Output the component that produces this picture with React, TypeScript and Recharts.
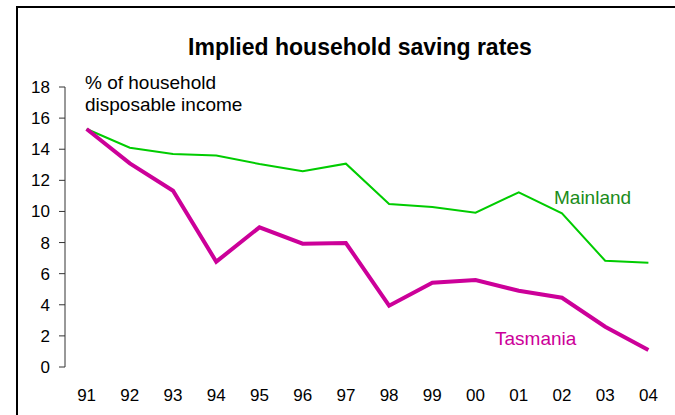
import React from 'react';
import { LineChart, Line, XAxis, YAxis } from 'recharts';

const years = ['91', '92', '93', '94', '95', '96', '97', '98', '99', '00', '01', '02', '03', '04'];
const mainland = [15.3, 14.1, 13.7, 13.6, 13.05, 12.58, 13.07, 10.48, 10.28, 9.92, 11.23, 9.88, 6.83, 6.7];
const tasmania = [15.3, 13.09, 11.33, 6.77, 8.98, 7.93, 7.97, 3.94, 5.42, 5.59, 4.9, 4.45, 2.59, 1.09];
const yTicks = [0, 2, 4, 6, 8, 10, 12, 14, 16, 18];

const data = years.map((y, i) => ({ i, year: y, mainland: mainland[i], tasmania: tasmania[i] }));
const labelTicks = years.map((_, i) => i);
const boundaryTicks = [...years.map((_, i) => i - 0.5), years.length - 0.5];

const FONT = '"Liberation Sans", Arial, sans-serif';

export default function App() {
  return (
    <div style={{ position: 'absolute', left: 0, top: 0, width: 675, height: 415, overflow: 'hidden', background: '#fff' }}>
      <div style={{ position: 'absolute', left: 16, top: 6, width: 800, height: 600, border: '2px solid #000' }} />
      <div style={{ position: 'absolute', left: 0, top: 0 }}>
        <LineChart width={675} height={415} data={data} margin={{ top: 87, right: 5, bottom: 18, left: 20 }}>
          <XAxis
            xAxisId="b"
            dataKey="i"
            type="number"
            domain={[-0.5, years.length - 0.5]}
            ticks={boundaryTicks}
            interval={0}
            height={0}
            tick={false}
            tickSize={6}
            stroke="#333"
            axisLine={{ stroke: '#333', strokeWidth: 1 }}
            tickLine={{ stroke: '#333', strokeWidth: 1 }}
          />
          <XAxis
            xAxisId="a"
            dataKey="i"
            type="number"
            domain={[-0.5, years.length - 0.5]}
            ticks={labelTicks}
            interval={0}
            height={30}
            axisLine={false}
            tickLine={false}
            tickSize={0}
            tickMargin={22}
            tickFormatter={(v: number) => years[v]}
            tick={{ fill: '#000', fontSize: 17, fontFamily: FONT }}
          />
          <YAxis
            domain={[0, 18]}
            ticks={yTicks}
            interval={0}
            width={45}
            tickSize={6}
            tickMargin={9}
            stroke="#333"
            tick={{ fill: '#000', fontSize: 17, fontFamily: FONT }}
          />
          <Line xAxisId="a" dataKey="mainland" stroke="#00cc00" strokeWidth={2} dot={false} isAnimationActive={false} />
          <Line xAxisId="a" dataKey="tasmania" stroke="#cc0099" strokeWidth={4} dot={false} isAnimationActive={false} />
        </LineChart>
      </div>
      <svg width={675} height={415} style={{ position: 'absolute', left: 0, top: 0, pointerEvents: 'none' }}>
        <text x={360} y={55} textAnchor="middle" fontFamily={FONT} fontSize={23} fontWeight="bold" fill="#000">
          Implied household saving rates
        </text>
        <text x={85} y={89} fontFamily={FONT} fontSize={19} fill="#000">% of household</text>
        <text x={85} y={111} fontFamily={FONT} fontSize={19} fill="#000">disposable income</text>
        <text x={554} y={204} fontFamily={FONT} fontSize={19} fill="#1a8c1a">Mainland</text>
        <text x={495} y={345} fontFamily={FONT} fontSize={19} fill="#cc0099">Tasmania</text>
      </svg>
    </div>
  );
}
